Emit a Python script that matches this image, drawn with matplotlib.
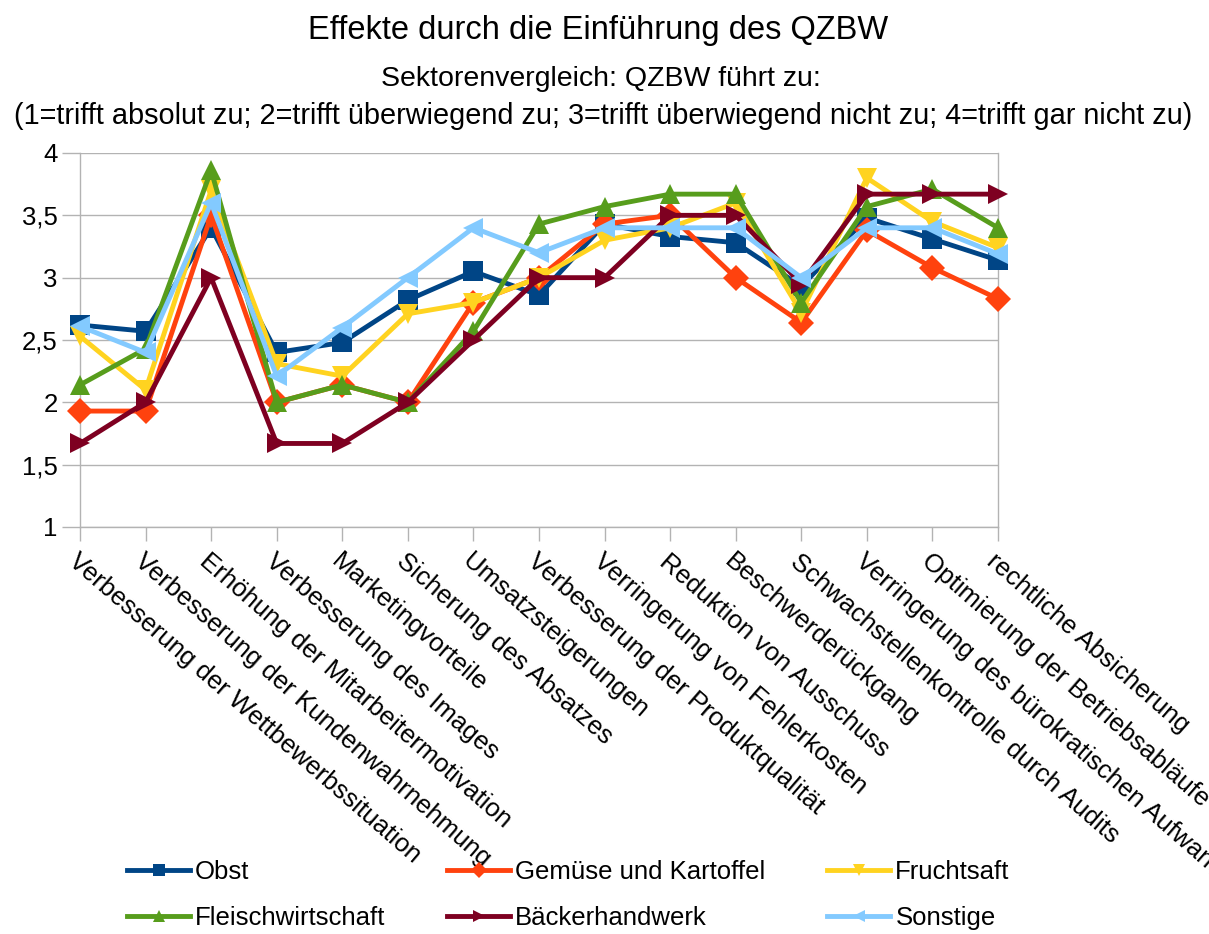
import matplotlib
matplotlib.use("Agg")
import matplotlib.pyplot as plt

categories = [
    "Verbesserung der Wettbewerbssituation",
    "Verbesserung der Kundenwahrnehmung",
    "Erhöhung der Mitarbeitermotivation",
    "Verbesserung des Images",
    "Marketingvorteile",
    "Sicherung des Absatzes",
    "Umsatzsteigerungen",
    "Verbesserung der Produktqualität",
    "Verringerung von Fehlerkosten",
    "Reduktion von Ausschuss",
    "Beschwerderückgang",
    "Schwachstellenkontrolle durch Audits",
    "Verringerung des bürokratischen Aufwands",
    "Optimierung der Betriebsabläufe",
    "rechtliche Absicherung",
]

obst = [2.62, 2.57, 3.40, 2.40, 2.48, 2.82, 3.05, 2.86, 3.43, 3.33, 3.28, 2.93, 3.48, 3.31, 3.14]
gemuese = [1.93, 1.93, 3.50, 2.00, 2.14, 2.00, 2.80, 3.00, 3.43, 3.50, 3.00, 2.64, 3.38, 3.08, 2.83]
fruchtsaft = [2.53, 2.10, 3.70, 2.31, 2.21, 2.71, 2.80, 3.00, 3.30, 3.40, 3.60, 2.72, 3.80, 3.45, 3.24]
fleisch = [2.14, 2.43, 3.86, 2.00, 2.14, 2.00, 2.57, 3.43, 3.57, 3.67, 3.67, 2.80, 3.57, 3.71, 3.40]
baecker = [1.67, 2.00, 3.00, 1.67, 1.67, 2.00, 2.50, 3.00, 3.00, 3.50, 3.50, 2.95, 3.67, 3.67, 3.67]
sonstige = [2.61, 2.40, 3.60, 2.21, 2.60, 3.00, 3.40, 3.20, 3.40, 3.40, 3.40, 3.00, 3.40, 3.40, 3.19]

series_names = ["Obst", "Gemüse und Kartoffel", "Fruchtsaft",
                "Fleischwirtschaft", "Bäckerhandwerk", "Sonstige"]
series_values = [obst, gemuese, fruchtsaft, fleisch, baecker, sonstige]
colors = ["#004586", "#ff420e", "#ffd320", "#579d1c", "#7e0021", "#83caff"]
markers = ["s", "D", "v", "^", ">", "<"]
msizes = [14, 13, 15, 15, 15, 15]

yticks = [1, 1.5, 2, 2.5, 3, 3.5, 4]
ytick_labels = ["1", "1,5", "2", "2,5", "3", "3,5", "4"]

plt.rcParams["font.family"] = ["Liberation Sans", "DejaVu Sans"]

fig = plt.figure(figsize=(12.09, 9.34), dpi=100)
ax = fig.add_axes([80 / 1209, 1 - 527 / 934, (998 - 80) / 1209, (527 - 153) / 934])

x = list(range(len(categories)))
handles = []
for name, vals, c, m, ms in zip(series_names, series_values, colors, markers, msizes):
    ln, = ax.plot(x, vals, color=c, lw=3.5, marker=m, markersize=ms,
                  markeredgewidth=0, clip_on=False, label=name, zorder=3)
    handles.append(ln)

ax.set_xlim(0, len(categories) - 1)
ax.set_ylim(1, 4)
ax.set_yticks(yticks)
ax.set_yticklabels(ytick_labels, fontsize=18.5)
ax.set_xticks(x)
ax.set_xticklabels(categories, rotation=-41, rotation_mode="anchor",
                   ha="left", va="top", fontsize=18.6)
ax.grid(axis="y", color="#b3b3b3", lw=1)
ax.set_axisbelow(True)
for s in ax.spines.values():
    s.set_color("#b3b3b3")
    s.set_linewidth(1)
ax.spines["top"].set_visible(False)
ax.tick_params(axis="x", length=10, color="#b3b3b3", width=1, pad=6)
ax.tick_params(axis="y", length=13, color="#b3b3b3", width=1, pad=3)

fig.text(0.495, 1 - 31 / 934, "Effekte durch die Einführung des QZBW",
         ha="center", va="center", fontsize=23.5)
fig.text(0.497, 1 - 79 / 934, "Sektorenvergleich: QZBW führt zu:",
         ha="center", va="center", fontsize=20.5)
fig.text(0.499, 1 - 116 / 934,
         "(1=trifft absolut zu; 2=trifft überwiegend zu; 3=trifft überwiegend nicht zu; 4=trifft gar nicht zu)",
         ha="center", va="center", fontsize=20.8)

order = [0, 3, 1, 4, 2, 5]
leg = fig.legend([handles[i] for i in order], [series_names[i] for i in order],
                 ncol=3, loc="center left", bbox_to_anchor=(104 / 1209, 1 - 895 / 934),
                 frameon=False, fontsize=18.5, handlelength=2.45, handletextpad=0.2,
                 columnspacing=2.4, labelspacing=0.88, markerscale=0.6)

fig.savefig("out.png", dpi=100)
